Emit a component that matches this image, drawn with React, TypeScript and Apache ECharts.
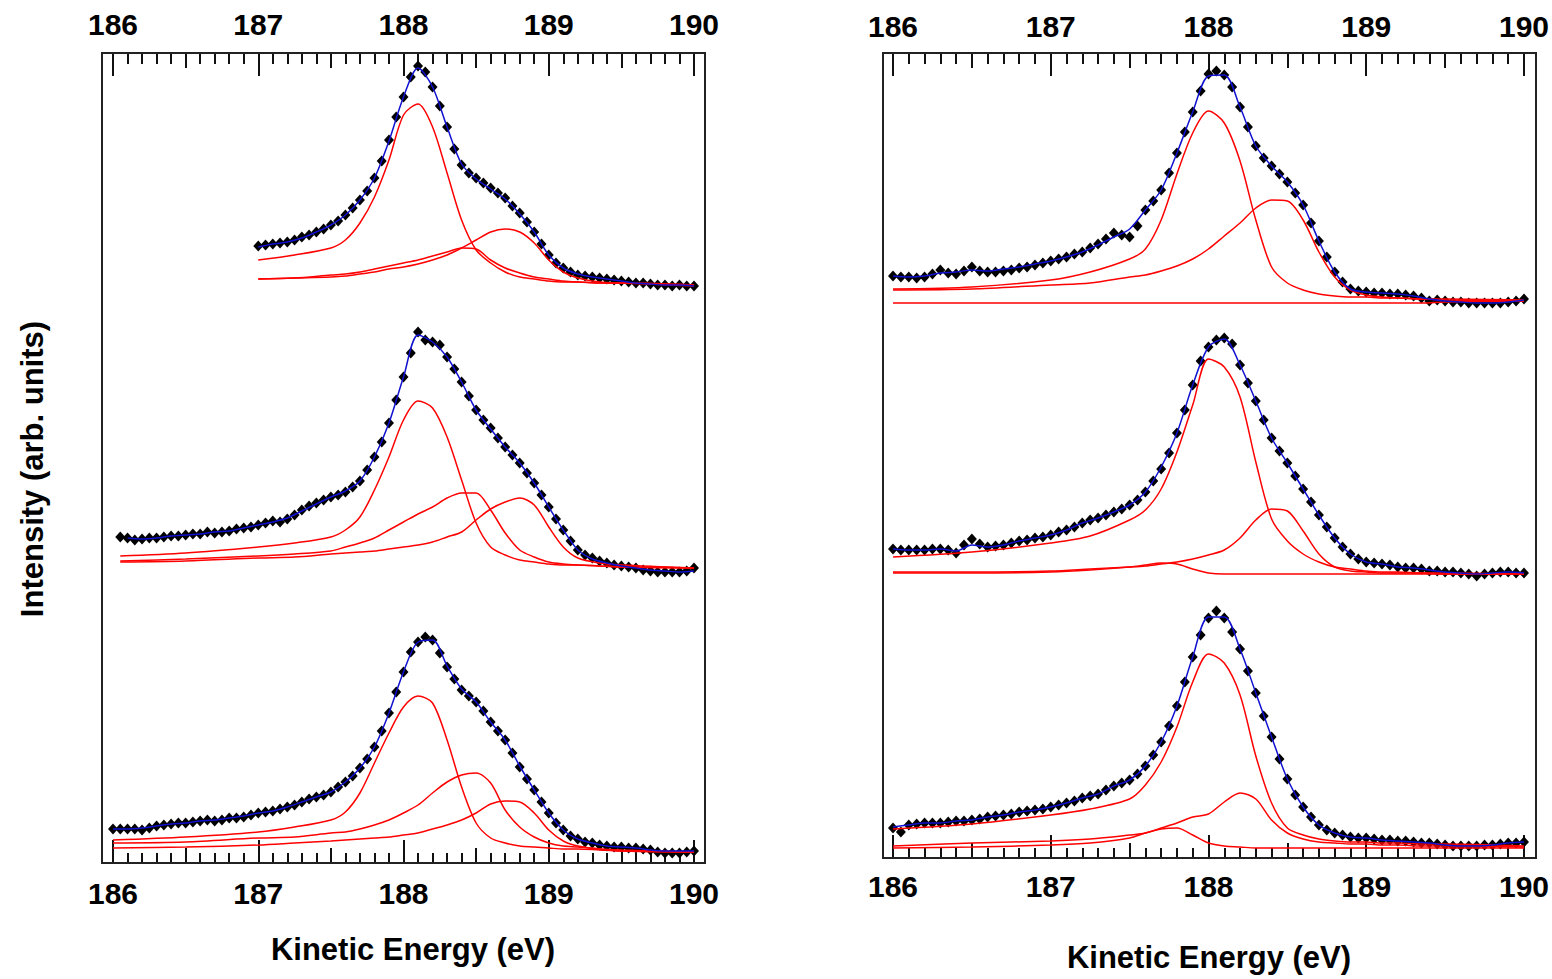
import React, { useEffect, useRef } from "react";
import * as echarts from "echarts";

// ---------- shared energy grid for fitted components (eV) ----------
const COMP_E = [186.0, 186.5, 187.0, 187.25, 187.5, 187.6, 187.7, 187.8, 187.9, 188.0, 188.1, 188.2, 188.3, 188.4, 188.5, 188.6, 188.7, 188.8, 188.9, 189.0, 189.1, 189.2, 189.35, 189.5, 190.0];

// ---------- LEFT panel, top spectrum ----------
const LT_DATA_START = 187.0; // step 0.05
const LT_DATA = [616,617,618,619,620,622,625,627,630,633,637,641,647,654,662,671,684,701,722,745,765,785,796,790,775,756,735,713,697,689,684,679,674,669,664,656,649,640,630,618,607,599,594,590,587,586,585,584,583,582,581,580,579,579,578,577,577,576,577,576,576];
const LT_FIT_START = 187.0; // step 0.1
const LT_FIT = [615,618,620,624,630,637,647,662,684,721,765,794,775,735,698,683,673,663,648,630,607,594,588,585,583,581,579,578,577,577,576];
const LT_C1 = [null,null,602,607,614,622,639,665,702,747,758,735,689,642,612,599,590,585,583,581,580,580,579,579,577];
const LT_C2 = [null,null,583,584,587,588,590,593,596,599,602,606,610,614,613,602,594,589,585,583,581,580,579,579,577];
const LT_C3 = [null,null,583,584,585,586,588,590,593,595,598,602,607,614,622,630,633,630,619,602,590,584,580,579,576];

// ---------- LEFT panel, middle spectrum ----------
const LM_DATA_START = 186.05;
const LM_DATA = [325,324,322,323,324,324,325,326,326,327,328,328,330,329,330,331,333,334,335,337,339,341,340,343,347,352,356,359,362,365,367,370,375,381,392,405,420,439,462,485,509,530,522,520,517,505,493,480,466,452,442,434,424,415,407,399,389,379,367,355,343,332,321,312,307,304,301,299,297,296,295,294,292,291,290,290,290,290,291,294];
const LM_FIT_START = 186.1;
const LM_FIT = [324,323,324,326,327,328,330,331,334,337,340,344,351,358,365,371,381,405,439,485,527,520,505,480,452,433,415,399,379,355,332,312,303,299,296,294,292,291,290,291];
const LM_COMP_START = 186.05;
const LM_C1 = [306,309,315,319,325,332,345,372,405,442,461,454,425,382,339,315,307,302,300,298,297,297,296,295,294];
const LM_C2 = [301,303,306,308,311,315,319,324,332,340,348,355,364,369,369,352,329,312,305,300,298,297,296,295,294];
const LM_C3 = [300,301,304,305,308,309,310,311,313,315,317,320,325,330,342,353,360,364,357,335,315,304,299,297,294];

// ---------- LEFT panel, bottom spectrum ----------
const LB_DATA_START = 186.0;
const LB_DATA = [33,33,33,33,32,34,36,37,38,39,39,40,41,42,41,42,44,44,45,47,49,50,51,53,55,57,60,63,65,67,70,75,80,86,94,103,115,131,149,170,190,210,220,225,222,209,195,183,172,166,160,151,140,131,122,109,95,83,72,60,49,39,32,26,23,20,19,17,16,15,15,14,14,13,12,10,9,9,9,10,11];
const LB_FIT_START = 186.0;
const LB_FIT = [33,33,34,36,38,39,41,42,44,46,49,51,55,60,65,70,80,94,115,149,190,220,222,196,173,160,140,122,96,72,49,32,23,19,16,15,14,12,11,11,11];
const LB_C1 = [22,25,30,35,42,50,69,99,129,155,166,159,122,75,39,24,19,16,15,14,13,13,12,11,10];
const LB_C2 = [19,20,24,25,29,30,33,37,42,49,57,69,80,87,89,79,52,35,25,19,16,15,13,12,10];
const LB_C3 = [14,15,17,19,21,22,23,24,25,27,29,33,37,42,49,58,61,60,49,32,21,16,13,11,10];

// ---------- RIGHT panel, top spectrum ----------
const RT_DATA_START = 186.0;
const RT_DATA = [581,580,580,579,580,583,587,584,583,586,590,586,585,585,586,587,589,590,592,594,596,598,600,603,605,609,613,618,624,622,620,631,647,656,667,684,704,725,745,766,783,786,782,770,750,730,711,699,691,683,675,664,652,634,616,600,585,575,568,566,565,564,564,563,563,562,561,559,556,557,556,555,555,554,554,554,554,554,555,556,558];
const RT_FIT_START = 186.0;
const RT_FIT = [581,580,581,584,585,587,586,588,590,593,596,600,605,612,620,628,647,667,704,745,781,782,750,711,691,675,652,616,585,568,565,564,563,561,558,556,555,554,554,555,557];
const RT_C1 = [568,570,577,585,598,608,637,683,724,746,734,696,637,590,574,567,563,561,560,560,559,559,558,558,557];
const RT_C2 = [567,568,572,574,580,582,586,591,598,608,621,634,649,657,656,637,605,580,567,562,560,559,558,557,556];
const RT_C3 = [554,554,554,554,554,554,554,554,554,554,554,554,554,554,554,554,554,554,554,554,554,554,554,555,556];

// ---------- RIGHT panel, middle spectrum ----------
const RM_DATA_START = 186.0;
const RM_DATA = [308,307,307,307,307,308,308,307,304,312,318,313,310,311,312,314,316,317,319,320,322,325,327,330,334,337,339,342,345,348,352,357,365,376,388,404,424,447,472,496,510,517,519,513,492,474,456,437,419,406,394,381,368,355,342,330,319,310,303,298,295,294,293,292,290,289,289,288,286,286,285,285,284,283,281,283,284,285,285,284,284];
const RM_FIT_START = 186.0;
const RM_FIT = [308,307,307,308,306,312,310,312,316,319,322,327,334,339,345,352,365,390,424,472,510,518,492,456,419,394,368,342,319,303,295,293,290,289,287,285,284,283,284,285,284];
const RM_C1 = [300,305,314,321,337,347,368,405,452,498,490,460,395,338,316,303,295,290,288,286,285,285,284,284,283];
const RM_C2 = [285,285,286,288,290,291,293,295,298,302,307,319,337,348,346,326,303,290,286,285,284,284,284,283,283];
const RM_C3 = [284,284,285,287,290,292,294,293,288,284,283,283,283,283,283,283,283,283,283,283,283,283,283,283,283];

// ---------- RIGHT panel, bottom spectrum ----------
const RB_DATA_START = 186.0;
const RB_DATA = [29,25,32,33,34,34,34,35,36,36,37,38,40,41,42,43,45,46,47,48,50,52,54,56,59,61,63,67,71,74,77,83,91,102,115,131,151,175,200,222,239,246,239,225,208,186,164,141,120,98,78,62,50,40,32,27,24,22,20,19,19,18,17,17,16,16,15,14,14,13,12,11,11,11,11,12,12,13,14,14,15];
const RB_FIT_START = 186.0;
const RB_FIT = [30,32,34,34,36,37,40,42,45,47,50,54,59,63,71,77,91,115,151,200,240,240,208,164,120,78,50,32,24,20,19,17,16,15,14,12,11,11,12,14,15];
const RB_C1 = [28,33,42,48,58,72,95,130,175,203,194,162,101,54,29,22,18,16,15,15,14,14,13,13,11];
const RB_C2 = [11,14,16,18,22,24,29,34,40,43,55,64,58,37,24,18,15,14,13,13,12,12,11,11,10];
const RB_C3 = [9,10,12,14,19,24,28,29,22,14,11,10,9,9,9,9,9,9,9,9,9,9,9,9,9];

const X_MIN = 186;
const X_MAX = 190;
const X_TITLE = "Kinetic Energy (eV)";
const Y_TITLE = "Intensity (arb. units)";

const DATA_STEP = 0.05;
const FIT_STEP = 0.1;

const FONT = '"Liberation Sans", Arial, Helvetica, sans-serif';

const pairs = (start: number, step: number, vals: number[]) =>
  vals.map((v, i) => [Number((start + i * step).toFixed(3)), v]);
const compPairs = (vals: (number | null)[], firstE?: number) =>
  vals
    .map((v, i) => [i === 0 && firstE != null ? firstE : COMP_E[i], v])
    .filter((p) => p[1] != null);

const PANELS = [
  [
    { d: pairs(LT_DATA_START, DATA_STEP, LT_DATA), f: pairs(LT_FIT_START, FIT_STEP, LT_FIT), c: [LT_C1, LT_C2, LT_C3], s: undefined },
    { d: pairs(LM_DATA_START, DATA_STEP, LM_DATA), f: pairs(LM_FIT_START, FIT_STEP, LM_FIT), c: [LM_C1, LM_C2, LM_C3], s: LM_COMP_START },
    { d: pairs(LB_DATA_START, DATA_STEP, LB_DATA), f: pairs(LB_FIT_START, FIT_STEP, LB_FIT), c: [LB_C1, LB_C2, LB_C3], s: undefined },
  ],
  [
    { d: pairs(RT_DATA_START, DATA_STEP, RT_DATA), f: pairs(RT_FIT_START, FIT_STEP, RT_FIT), c: [RT_C1, RT_C2, RT_C3], s: undefined },
    { d: pairs(RM_DATA_START, DATA_STEP, RM_DATA), f: pairs(RM_FIT_START, FIT_STEP, RM_FIT), c: [RM_C1, RM_C2, RM_C3], s: undefined },
    { d: pairs(RB_DATA_START, DATA_STEP, RB_DATA), f: pairs(RB_FIT_START, FIT_STEP, RB_FIT), c: [RB_C1, RB_C2, RB_C3], s: undefined },
  ],
];

const TICK_COLOR = "#111";

function axesFor(gridIndex: number, topMargin: number, botMargin: number) {
  const base = {
    gridIndex,
    type: "value",
    min: X_MIN,
    max: X_MAX,
    axisLine: { show: false },
    splitLine: { show: false },
  };
  const label = (margin: number) => ({
    show: true,
    margin,
    fontSize: 30,
    fontWeight: "bold",
    fontFamily: FONT,
    color: "#000",
  });
  return [
    { ...base, position: "bottom", interval: 1, axisTick: { inside: true, length: 22, lineStyle: { color: TICK_COLOR, width: 2 } }, axisLabel: label(botMargin) },
    { ...base, position: "bottom", interval: 0.5, axisTick: { inside: true, length: 14, lineStyle: { color: TICK_COLOR, width: 2 } }, minorTick: { show: true, splitNumber: 5, length: 9, lineStyle: { color: TICK_COLOR, width: 2 } }, axisLabel: { show: false } },
    { ...base, position: "top", interval: 1, axisTick: { inside: true, length: 23, lineStyle: { color: TICK_COLOR, width: 2 } }, axisLabel: label(topMargin) },
    { ...base, position: "top", interval: 0.5, axisTick: { inside: true, length: 15, lineStyle: { color: TICK_COLOR, width: 2 } }, minorTick: { show: true, splitNumber: 5, length: 11, lineStyle: { color: TICK_COLOR, width: 2 } }, axisLabel: { show: false } },
  ];
}

export default function App() {
  const ref = useRef<HTMLDivElement>(null);

  useEffect(() => {
    if (!ref.current) return;
    const chart = echarts.init(ref.current, null, { renderer: "svg" });

    const series: any[] = [];
    PANELS.forEach((panel, g) => {
      panel.forEach((sp) => {
        series.push({
          type: "scatter",
          xAxisIndex: g * 4,
          yAxisIndex: g,
          data: sp.d,
          symbol: "diamond",
          symbolSize: [10, 11],
          itemStyle: { color: "#000", opacity: 1 },
          z: 2,
          silent: true,
        });
        sp.c.forEach((comp) => {
          series.push({
            type: "line",
            xAxisIndex: g * 4,
            yAxisIndex: g,
            data: compPairs(comp, sp.s),
            showSymbol: false,
            smooth: 0.3,
            lineStyle: { color: "#ff0000", width: 1.5 },
            z: 3,
            silent: true,
          });
        });
        series.push({
          type: "line",
          xAxisIndex: g * 4,
          yAxisIndex: g,
          data: sp.f,
          showSymbol: false,
          smooth: 0.3,
          lineStyle: { color: "#1010d0", width: 1.5 },
          z: 4,
          silent: true,
        });
      });
    });

    chart.setOption({
      animation: false,
      backgroundColor: "#ffffff",
      grid: [
        { left: 113, right: 858, top: 53, bottom: 117 },
        { left: 893, right: 24, top: 53, bottom: 122 },
      ],
      xAxis: [...axesFor(0, 14, 16), ...axesFor(1, 12, 14)],
      yAxis: [
        { gridIndex: 0, type: "value", min: 0, max: 809, show: false },
        { gridIndex: 1, type: "value", min: 0, max: 804, show: false },
      ],
      series,
      graphic: [
        { type: "rect", shape: { x: 102, y: 53, width: 603, height: 810 }, style: { fill: "none", stroke: "#222", lineWidth: 2 }, z: 10, silent: true },
        { type: "rect", shape: { x: 883, y: 53, width: 653, height: 805 }, style: { fill: "none", stroke: "#222", lineWidth: 2 }, z: 10, silent: true },
        { type: "text", x: 413, y: 949, style: { text: X_TITLE, font: `bold 31px ${FONT}`, fill: "#000", textAlign: "center", textVerticalAlign: "middle" }, z: 10 },
        { type: "text", x: 1209, y: 957, style: { text: X_TITLE, font: `bold 31px ${FONT}`, fill: "#000", textAlign: "center", textVerticalAlign: "middle" }, z: 10 },
        { type: "text", x: 32, y: 469, rotation: Math.PI / 2, style: { text: Y_TITLE, font: `bold 31px ${FONT}`, fill: "#000", textAlign: "center", textVerticalAlign: "middle" }, z: 10 },
      ],
    });

    return () => chart.dispose();
  }, []);

  return (
    <div
      ref={ref}
      style={{ position: "absolute", left: 0, top: 0, width: 1552, height: 979, background: "#fff" }}
    />
  );
}
